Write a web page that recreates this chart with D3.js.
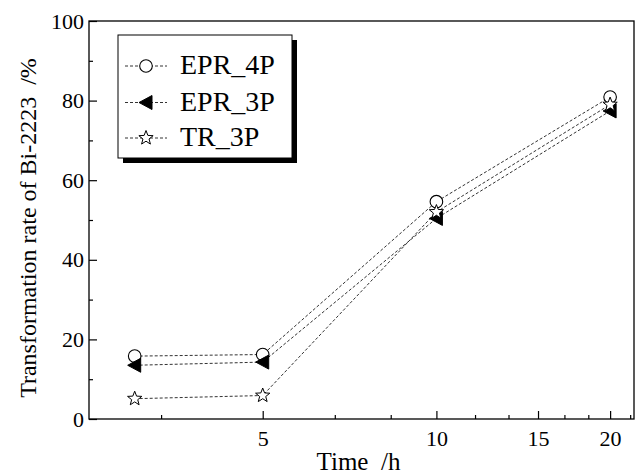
<!DOCTYPE html>
<html>
<head>
<meta charset="utf-8">
<script src="https://cdn.jsdelivr.net/npm/d3@7"></script>
<style>
  html, body { margin: 0; padding: 0; background: #fff; }
  svg { display: block; }
  svg text { font-family: "Liberation Serif", "Times New Roman", Times, serif !important; fill: #000; }
</style>
</head>
<body>
<script>
// ---- data ----
const times = [3, 5, 10, 20];
const seriesNames = ["EPR_4P", "EPR_3P", "TR_3P"];
const epr4p = [15.8, 16.2, 54.6, 80.9];
const epr3p = [13.5, 14.3, 50.4, 77.4];
const tr3p  = [5.1, 5.9, 52.0, 79.0];
const xTickValues = [5, 10, 15, 20];
const xMinorValues = [10/3, 20/3, 25/3, 35/3, 40/3, 50/3, 55/3, 65/3];
const yTickValues = [0, 20, 40, 60, 80, 100];
const yMinorValues = [10, 30, 50, 70, 90];
const xTitle = "Time  /h";
const yTitle = "Transformation rate of Bi-2223  /%";

const W = 636, H = 475;
const L = 89, R = 634, T = 21, B = 419;
const SERIF = "Liberation Serif";

const svg = d3.select("body").append("svg").attr("width", W).attr("height", H)
  .attr("font-family", SERIF);

const x = d3.scaleLog().domain([2.5, 22]).range([L, R]);
const y = d3.scaleLinear().domain([0, 100]).range([B, T]);

// frame
svg.append("rect").attr("x", L).attr("y", T).attr("width", R - L).attr("height", B - T)
  .attr("fill", "none").attr("stroke", "#000").attr("stroke-width", 1.3);

// axes
const xAxis = svg.append("g").attr("transform", `translate(0,${B})`)
  .call(d3.axisBottom(x).tickValues(xTickValues).tickFormat(d3.format("d"))
        .tickSizeInner(-8).tickSizeOuter(0).tickPadding(11));
const xMinor = svg.append("g").attr("transform", `translate(0,${B})`)
  .call(d3.axisBottom(x).tickValues(xMinorValues).tickFormat("")
        .tickSizeInner(-4).tickSizeOuter(0));
const yAxis = svg.append("g").attr("transform", `translate(${L},0)`)
  .call(d3.axisLeft(y).tickValues(yTickValues).tickFormat(d3.format("d"))
        .tickSizeInner(-8).tickSizeOuter(0).tickPadding(5));
const yMinor = svg.append("g").attr("transform", `translate(${L},0)`)
  .call(d3.axisLeft(y).tickValues(yMinorValues).tickFormat("")
        .tickSizeInner(-4).tickSizeOuter(0));

[xAxis, xMinor, yAxis, yMinor].forEach(g => {
  g.attr("font-family", SERIF);
  g.select(".domain").remove();
  g.selectAll(".tick line").attr("stroke", "#000").attr("stroke-width", 1.2);
  g.selectAll("text").attr("font-family", SERIF).attr("font-size", 22).attr("fill", "#000");
});

// titles
svg.append("text").attr("x", (L + R) / 2 - 3).attr("y", 470).attr("text-anchor", "middle")
  .attr("font-family", SERIF).attr("font-size", 25).style("white-space", "pre").text(xTitle);
svg.append("text").attr("transform", `translate(36,${(T + B) / 2 + 8}) rotate(-90)`)
  .attr("text-anchor", "middle").attr("font-family", SERIF).attr("font-size", 24)
  .style("white-space", "pre").text(yTitle);

// markers
function starPath(R1, r1) {
  const pts = [];
  for (let i = 0; i < 10; i++) {
    const a = -Math.PI / 2 + i * Math.PI / 5;
    const rr = i % 2 === 0 ? R1 : r1;
    pts.push([rr * Math.cos(a), rr * Math.sin(a)]);
  }
  return "M" + pts.map(p => p[0].toFixed(2) + "," + p[1].toFixed(2)).join("L") + "Z";
}
function drawMarker(g, kind, cx, cy) {
  if (kind === 0) {
    g.append("circle").attr("cx", cx).attr("cy", cy).attr("r", 6.3)
      .attr("fill", "#fff").attr("stroke", "#000").attr("stroke-width", 1.1);
  } else if (kind === 1) {
    g.append("path").attr("d", "M-7,0L6,-7L6,7Z").attr("transform", `translate(${cx},${cy})`)
      .attr("fill", "#000").attr("stroke", "#000").attr("stroke-width", 1);
  } else {
    g.append("path").attr("d", starPath(7.5, 3.2)).attr("transform", `translate(${cx},${cy})`)
      .attr("fill", "#fff").attr("stroke", "#000").attr("stroke-width", 1);
  }
}

const seriesValues = [epr4p, epr3p, tr3p];
const line = d3.line().x((d, i) => x(times[i])).y(d => y(d));
const plot = svg.append("g");
seriesValues.forEach(vals => {
  plot.append("path").attr("d", line(vals)).attr("fill", "none")
    .attr("stroke", "#333").attr("stroke-width", 1).attr("stroke-dasharray", "3,2");
});
seriesValues.forEach((vals, k) => {
  vals.forEach((v, i) => drawMarker(plot, k, x(times[i]), y(v)));
});

// legend
const lg = svg.append("g");
const lx = 118, ly = 35, lw = 174, lh = 123;
lg.append("rect").attr("x", lx + 5).attr("y", ly + 5).attr("width", lw).attr("height", lh).attr("fill", "#000");
lg.append("rect").attr("x", lx).attr("y", ly).attr("width", lw).attr("height", lh)
  .attr("fill", "#fff").attr("stroke", "#000").attr("stroke-width", 1);
const baselines = [74, 110.5, 146];
seriesNames.forEach((name, k) => {
  const by = baselines[k];
  const my = by - 8;
  lg.append("line").attr("x1", 125).attr("x2", 167).attr("y1", my).attr("y2", my)
    .attr("stroke", "#333").attr("stroke-width", 1).attr("stroke-dasharray", "3,2");
  drawMarker(lg, k, 146, my);
  lg.append("text").attr("x", 180).attr("y", by).attr("font-family", SERIF)
    .attr("font-size", 28).text(name);
});
</script>
</body>
</html>
